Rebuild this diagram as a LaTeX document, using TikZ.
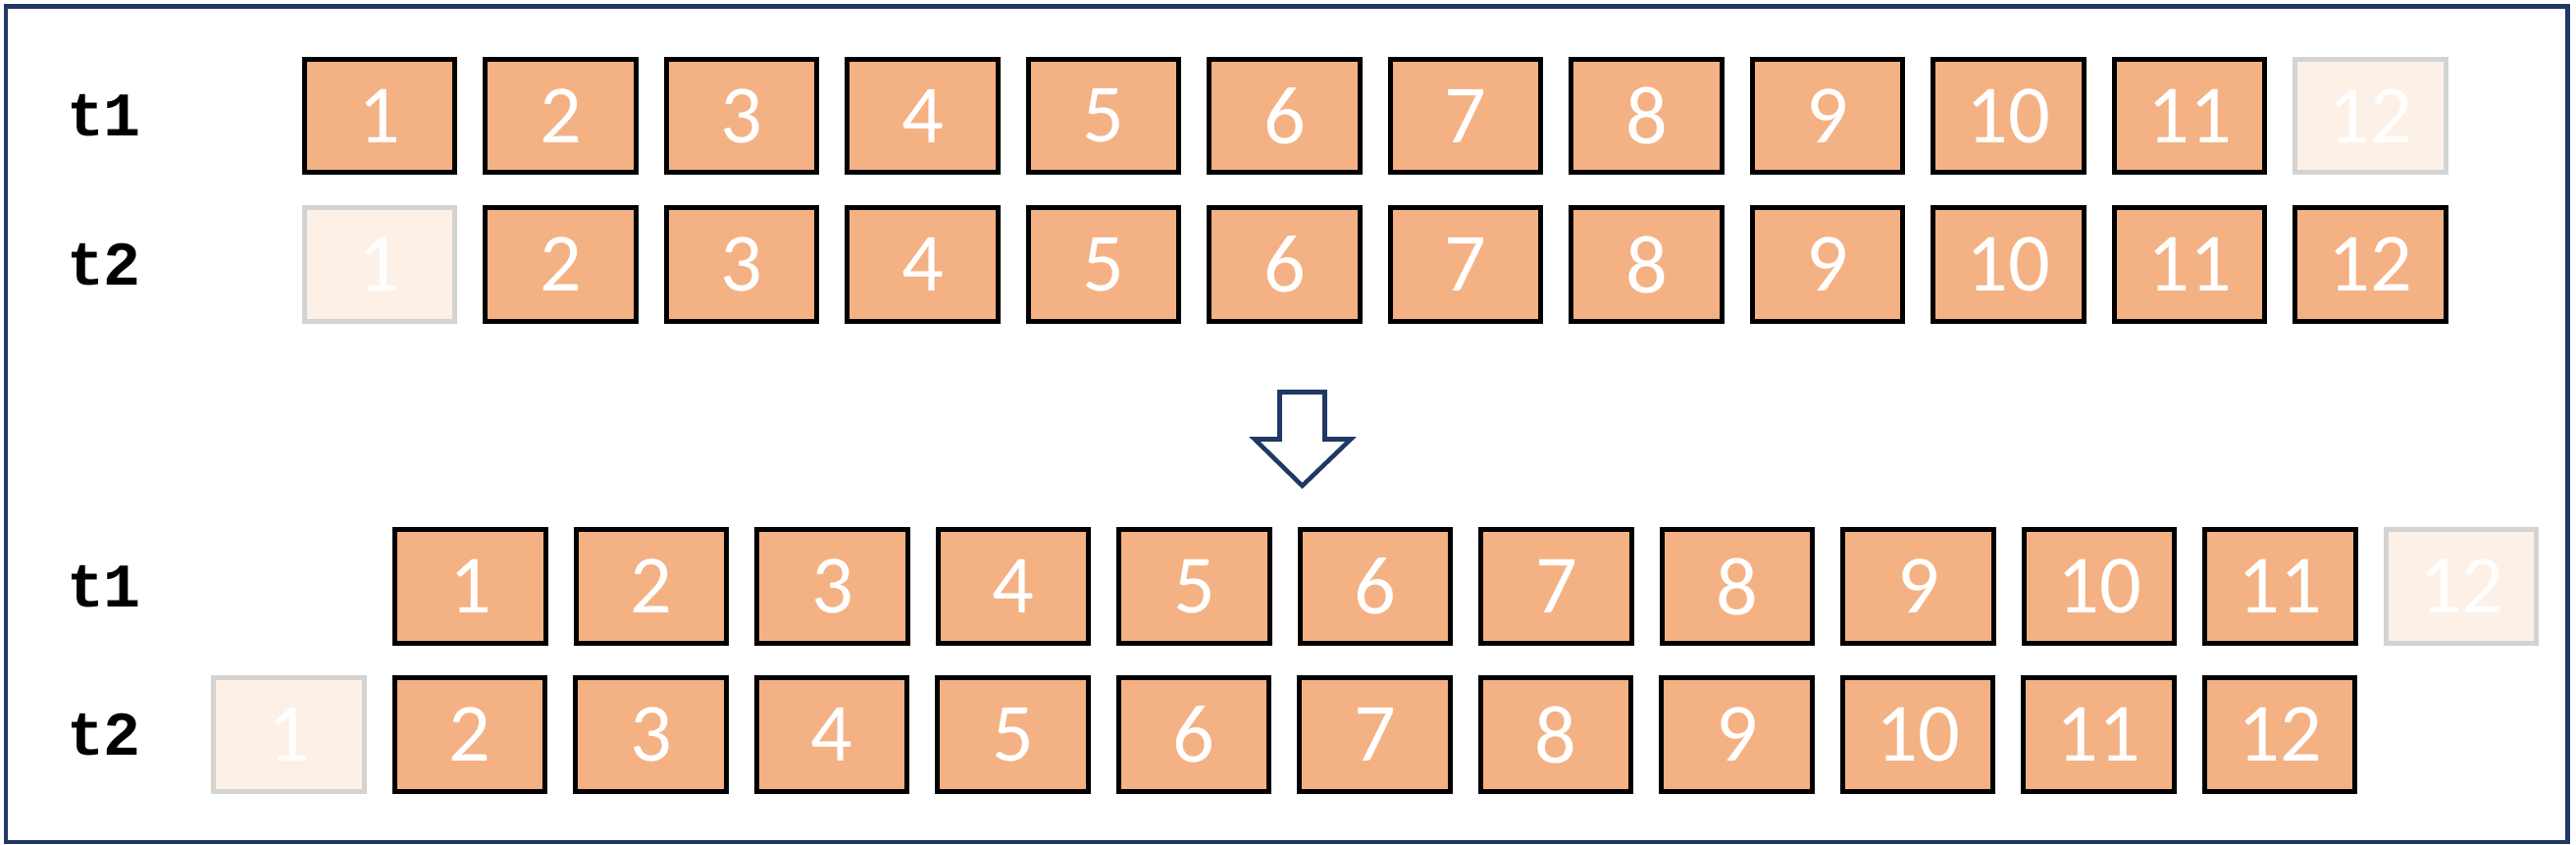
\documentclass[tikz,border=0pt]{standalone}
\usepackage{fontspec}
\newfontfamily\boxfont{Carlito}
\newfontfamily\labfont{Liberation Mono}
\definecolor{cellfill}{HTML}{F4B183}
\definecolor{fadefill}{HTML}{FDF0E6}
\definecolor{fadeline}{HTML}{D3D3D3}
\definecolor{navy}{HTML}{1F3864}
\tikzset{
  cell/.style={draw=black, fill=cellfill, line width=1.42pt, minimum width=1.53cm, minimum height=1.15cm, inner sep=0pt, text=white, font=\boxfont\fontsize{24}{24}\selectfont},
  fadecell/.style={cell, draw=fadeline, fill=fadefill},
  rowlabel/.style={inner sep=0pt, font=\labfont\bfseries\fontsize{18}{18}\selectfont},
  frameline/.style={draw=navy, line width=1.42pt},
  bigarrow/.style={draw=navy, line width=1.3pt, fill=white, line join=miter}
}
\begin{document}
\begin{tikzpicture}[x=0.01cm, y=-0.01cm]
\useasboundingbox (0,0) rectangle (2626,861);
\draw[frameline] (6,6.5) rectangle (2617,858);
% top section
\node[rowlabel] (lt1) at (106,118) {t1};
\node[rowlabel] (lt2) at (106,269.5) {t2};
\foreach \i in {1,...,11} {
  \node[cell] (a\i) at ({387+(\i-1)*184.5},118) {\i};
}
\node[fadecell] (a12) at ({387+11*184.5},118) {12};
\node[fadecell] (b1) at (387,269.5) {1};
\foreach \i in {2,...,12} {
  \node[cell] (b\i) at ({387+(\i-1)*184.5},269.5) {\i};
}
% arrow
\draw[bigarrow] (1304.5,399.5) -- (1350.5,399.5) -- (1350.5,447.5) -- (1377,447.5) -- (1327.5,495) -- (1279,447.5) -- (1304.5,447.5) -- cycle;
% bottom section
\node[rowlabel] (lt3) at (106,597.5) {t1};
\node[rowlabel] (lt4) at (106,748.5) {t2};
\foreach \i in {1,...,11} {
  \node[cell] (c\i) at ({479.5+(\i-1)*184.5},597.5) {\i};
}
\node[fadecell] (c12) at ({479.5+11*184.5},597.5) {12};
\node[fadecell] (d1) at (294.5,748.5) {1};
\foreach \i in {2,...,12} {
  \node[cell] (d\i) at ({294.5+(\i-1)*184.5},748.5) {\i};
}
\end{tikzpicture}
\end{document}
